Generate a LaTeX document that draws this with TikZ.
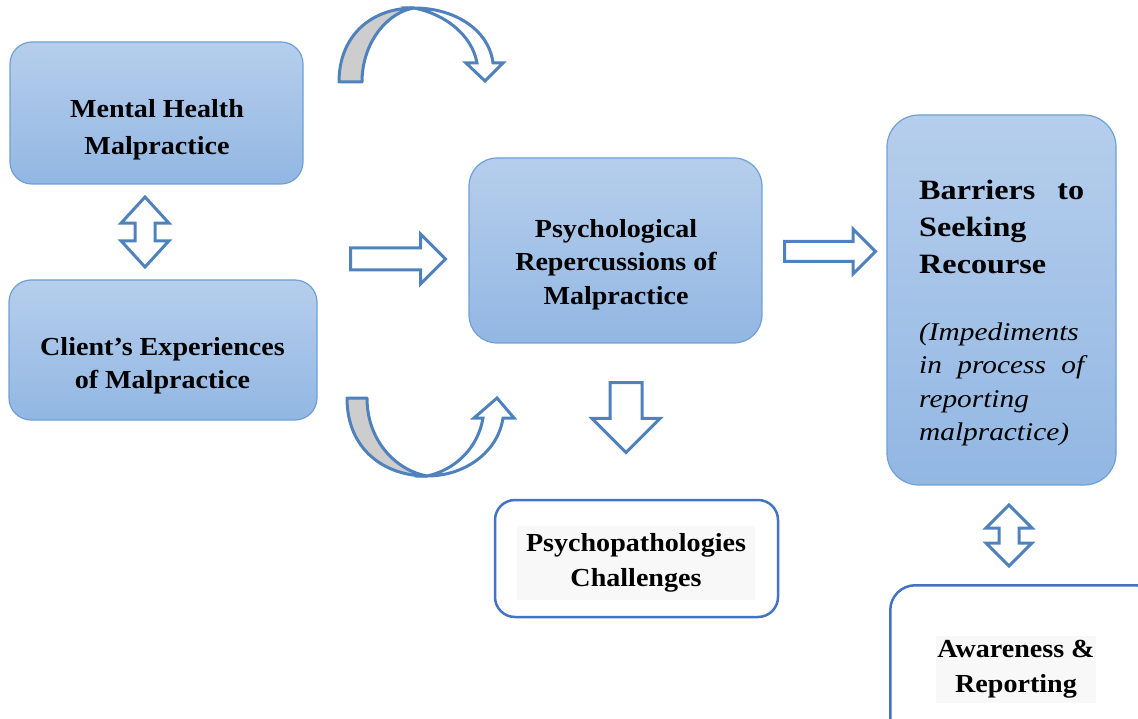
\documentclass[tikz,border=0pt]{standalone}
\usepackage{fontspec}
\setmainfont{Liberation Serif}[FakeStretch=1.08]
\newfontfamily\wideserif{Liberation Serif}[FakeStretch=1.15]
\usepackage{xcolor}
\usepackage{tikz}
\usetikzlibrary{shapes.arrows}
\definecolor{boxtop}{RGB}{182,206,236}
\definecolor{boxbot}{RGB}{146,183,227}
\definecolor{boxline}{RGB}{110,160,215}
\definecolor{arrline}{RGB}{79,129,189}
\definecolor{outline}{RGB}{68,114,196}
\definecolor{hilite}{RGB}{248,248,248}
\definecolor{foldgrey}{RGB}{205,205,205}
\tikzset{
  block/.style={rectangle, rounded corners=22pt, draw=boxline, line width=1.2pt,
                top color=boxtop, bottom color=boxbot, inner sep=0pt},
  plainblock/.style={rectangle, rounded corners=20pt, draw=outline, line width=2.5pt,
                fill=white, inner sep=0pt},
  boxtext/.style={inner sep=0pt, align=center, font=\fontsize{26}{35}\selectfont\bfseries},
  hilitetext/.style={boxtext, fill=hilite, inner xsep=9pt, inner ysep=8pt},
  fatarrow/.style={single arrow, draw=arrline, line width=3pt, fill=white,
                single arrow head extend=#1},
  twoway/.style={double arrow, draw=arrline, line width=3pt, fill=white,
                shape border rotate=90, double arrow head extend=#1},
  foldback/.style={draw=arrline, line width=3pt, fill=foldgrey, line join=round},
  foldfront/.style={draw=arrline, line width=3pt, fill=white, line join=miter},
}
\begin{document}
\begin{tikzpicture}[x=1pt, y=-1pt]
  \useasboundingbox (0,0) rectangle (1138,719);
  \clip (0,0) rectangle (1138,719);

  %% ---- LEFT COLUMN ----
  \node[block, minimum width=293, minimum height=142] (mental) at (156.5,113) {};
  \node[boxtext, font=\fontsize{26}{36.7}\selectfont\bfseries] (mentalT) at (157,129.5)
    {Mental Health\\Malpractice};
  \node[block, minimum width=308, minimum height=140] (client) at (163,350) {};
  \node[boxtext, font=\fontsize{26}{33}\selectfont\bfseries] (clientT) at (162.5,365.5)
    {Client’s Experiences\\of Malpractice};
  \node[twoway=14, inner sep=8.5pt, minimum height=70, double arrow tip angle=85] (link) at (145,232) {};

  %% ---- CENTRE ----
  \node[block, rounded corners=28pt, minimum width=293, minimum height=185] (psych) at (615.5,250.5) {};
  \node[boxtext, font=\fontsize{26}{33.5}\selectfont\bfseries] (psychT) at (616,264.5)
    {Psychological\\Repercussions of\\Malpractice};
  \node[fatarrow=14, inner sep=9.5pt, minimum height=95, anchor=tail] (toPsych) at (349,259) {};
  \node[fatarrow=18, inner sep=14.5pt, minimum height=70, anchor=tail, shape border rotate=270] (toPatho) at (626,381) {};

  \node[plainblock, minimum width=283, minimum height=117] (patho) at (636.5,558.5) {};
  \node[hilitetext] (pathoT) at (636,563) {Psychopathologies\\Challenges};

  %% ---- CURVED ARROWS ----
  \path[foldback] (339,82) .. controls (339,35) and (372,8) .. (414,8)
    .. controls (388,12) and (362,42) .. (362,82) -- cycle;
  \path[foldfront] (414,8) .. controls (455,8) and (489,30) .. (493,63) -- (503,63) -- (485,81)
    -- (466,63) -- (477,63) .. controls (472,35) and (445,14) .. (414,8) -- cycle;

  \path[foldback] (347,398) .. controls (347,450) and (385,476) .. (427,476)
    .. controls (395,470) and (367,440) .. (367,398) -- cycle;
  \path[foldfront] (427,476) .. controls (465,476) and (498,452) .. (503,418) -- (514,418) -- (497,398)
    -- (474,418) -- (483,418) .. controls (478,448) and (455,470) .. (427,476) -- cycle;

  %% ---- RIGHT COLUMN ----
  \node[fatarrow=12.5, inner sep=8.5pt, minimum height=91, anchor=tail] (toBarrier) at (783,251.5) {};
  \node[block, rounded corners=32pt, minimum width=229, minimum height=370] (barrier) at (1001.5,300) {};
  \node[inner sep=0pt, anchor=north west, text width=165, align=left,
        font=\wideserif\fontsize{28}{37}\selectfont\bfseries] (barrierT) at (919,180)
    {Barriers \hfill to\\Seeking\\Recourse};
  \node[inner sep=0pt, anchor=north west, text width=165, align=left,
        font=\wideserif\fontsize{25.5}{33.5}\selectfont\itshape] (barrierS) at (919,322.5)
    {(Impediments\\in \hfill process \hfill of\\reporting\\malpractice)};

  \node[twoway=13, inner sep=8.5pt, minimum height=61] (link2) at (1009,535.5) {};
  \node[plainblock, rounded corners=25pt, minimum width=270, minimum height=160, anchor=north west] (aware) at (889,584) {};
  \node[hilitetext, inner xsep=1pt, inner ysep=4pt] (awareT) at (1016,669.5) {Awareness \&\\Reporting};

\end{tikzpicture}
\end{document}
